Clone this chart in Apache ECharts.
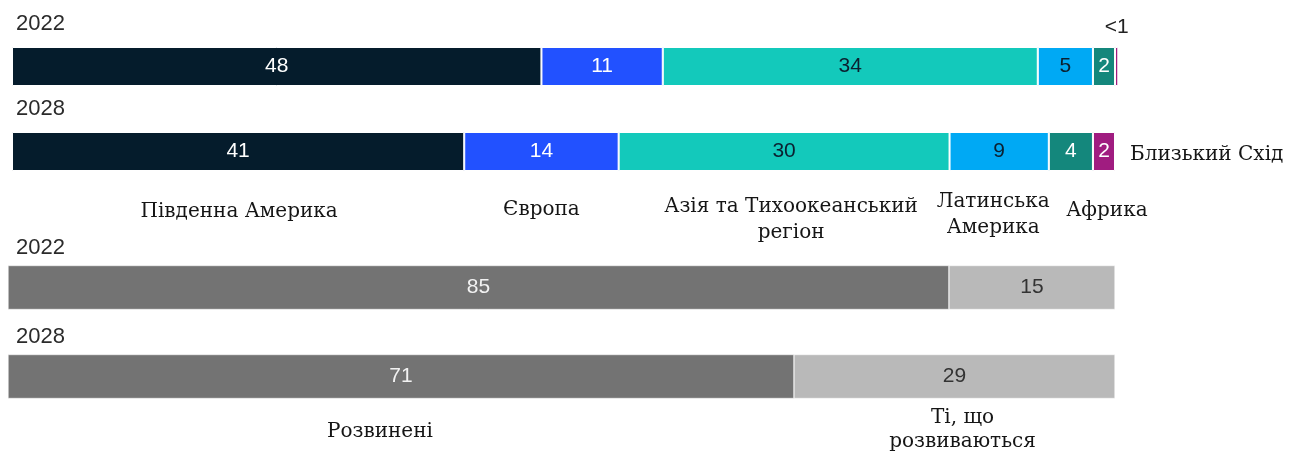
<!DOCTYPE html>
<html><head><meta charset="utf-8">
<script src="https://cdn.jsdelivr.net/npm/echarts/dist/echarts.min.js"></script>
<style>html,body{margin:0;padding:0;background:#fff}#c{width:1299px;height:452px}</style>
</head><body><div id="c"></div>
<script>
// ---- data ----
const years = ['2022', '2028'];
const regions = ['Південна Америка', 'Європа', 'Азія та Тихоокеанський\nрегіон', 'Латинська\nАмерика', 'Африка', 'Близький Схід'];
const regionShare2022 = [48, 11, 34, 5, 2, 0.3];
const regionShare2028 = [41, 14, 30, 9, 4, 2];
const regionText2022 = ['48', '11', '34', '5', '2', '<1'];
const regionText2028 = ['41', '14', '30', '9', '4', '2'];
const economies = ['Розвинені', 'Ті, що\nрозвиваються'];
const economyShare2022 = [85, 15];
const economyShare2028 = [71, 29];
const economyText2022 = ['85', '15'];
const economyText2028 = ['71', '29'];

// ---- styles ----
const regionColors = ['#051c2c', '#2251ff', '#13c9bb', '#00a9f4', '#14877c', '#a01c80'];
const regionLabelColors = ['#ffffff', '#ffffff', '#0b2030', '#0b2030', '#ffffff', '#ffffff'];
const economyColors = ['#737373', '#b9b9b9'];
const economyLabelColors = ['#f2f2f2', '#333333'];
const SANS = '"Liberation Sans", Arial, sans-serif';
const SERIF = '"DejaVu Serif", Georgia, serif';

const chart = echarts.init(document.getElementById('c'), null, {renderer: 'canvas'});

const series = [];
regions.forEach((name, i) => {
  const d22 = {value: regionShare2022[i]};
  if (regionText2022[i] === '<1') {
    d22.label = {position: 'top', distance: 9, offset: [0, 0], color: '#222'};
  }
  series.push({
    type: 'bar', name, stack: 'reg', xAxisIndex: 0, yAxisIndex: 0,
    barWidth: 39, clip: false,
    itemStyle: {color: regionColors[i], borderColor: '#ffffff', borderWidth: 1},
    label: {
      show: true, position: 'inside', color: regionLabelColors[i],
      fontFamily: SANS, fontSize: 21,
      formatter: p => (p.dataIndex === 0 ? regionText2022 : regionText2028)[i]
    },
    data: [d22, {value: regionShare2028[i]}]
  });
});
economies.forEach((name, i) => {
  series.push({
    type: 'bar', name, stack: 'eco', xAxisIndex: 1, yAxisIndex: 1,
    barWidth: 44, clip: false,
    itemStyle: {color: economyColors[i], borderColor: '#ffffff', borderWidth: 0.5},
    label: {
      show: true, position: 'inside', color: economyLabelColors[i],
      fontFamily: SANS, fontSize: 21,
      formatter: p => (p.dataIndex === 0 ? economyText2022 : economyText2028)[i]
    },
    data: [economyShare2022[i], economyShare2028[i]]
  });
});

const hiddenAxis = {axisLine: {show: false}, axisTick: {show: false}, axisLabel: {show: false}, splitLine: {show: false}};

chart.setOption({
  animation: false,
  backgroundColor: '#ffffff',
  grid: [
    {left: 12, right: 184, top: 24, height: 170},
    {left: 8, right: 184, top: 243, height: 178}
  ],
  xAxis: [
    Object.assign({type: 'value', gridIndex: 0, min: 0, max: 100}, hiddenAxis),
    Object.assign({type: 'value', gridIndex: 1, min: 0, max: 100}, hiddenAxis)
  ],
  yAxis: [
    Object.assign({type: 'category', gridIndex: 0, data: years, inverse: true}, hiddenAxis),
    Object.assign({type: 'category', gridIndex: 1, data: years, inverse: true}, hiddenAxis)
  ],
  series
});

// ---- text placed from the axes ----
const graphics = [];
const yearGap = [23, 18];
const barHalf = [19.5, 22];
[0, 1].forEach(g => {
  years.forEach(y => {
    const cy = chart.convertToPixel({yAxisIndex: g}, y);
    graphics.push({
      type: 'text', x: 16, y: cy - barHalf[g] - yearGap[g],
      style: {text: y, fill: '#2b2b2b', font: '22px ' + SANS, textVerticalAlign: 'middle', textAlign: 'left'}
    });
  });
});

// region names under 2028 segments
const regDx = [1, 0, 7, -6, 36];
const regDy = [60, 58.5, 68, 63.5, 59.5];
const cy28 = chart.convertToPixel({yAxisIndex: 0}, '2028');
let cum = 0;
regions.forEach((name, i) => {
  const start = cum;
  cum += regionShare2028[i];
  if (i < regions.length - 1) {
    const cx = chart.convertToPixel({xAxisIndex: 0}, (start + cum) / 2);
    graphics.push({
      type: 'text', x: cx + regDx[i], y: cy28 + regDy[i],
      style: {text: name, fill: '#151515', font: '20px ' + SERIF, textAlign: 'center', textVerticalAlign: 'middle', lineHeight: 26}
    });
  } else {
    const ex = chart.convertToPixel({xAxisIndex: 0}, cum);
    graphics.push({
      type: 'text', x: ex + 15, y: cy28 + 3,
      style: {text: name, fill: '#151515', font: '20px ' + SERIF, textAlign: 'left', textVerticalAlign: 'middle'}
    });
  }
});

// economy names under 2028 segments
const ecoDx = [-21, 8];
const ecoDy = [55.5, 53];
const ecy28 = chart.convertToPixel({yAxisIndex: 1}, '2028');
let ecum = 0;
economies.forEach((name, i) => {
  const start = ecum;
  ecum += economyShare2028[i];
  const cx = chart.convertToPixel({xAxisIndex: 1}, (start + ecum) / 2);
  graphics.push({
    type: 'text', x: cx + ecoDx[i], y: ecy28 + ecoDy[i],
    style: {text: name, fill: '#151515', font: '20px ' + SERIF, textAlign: 'center', textVerticalAlign: 'middle', lineHeight: 24}
  });
});

chart.setOption({graphic: graphics});
</script>
</body></html>
